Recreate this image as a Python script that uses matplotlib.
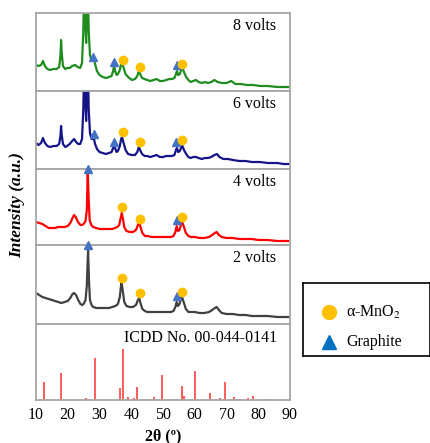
import matplotlib
matplotlib.use("Agg")
import matplotlib.pyplot as plt

plt.rcParams['font.family'] = ['Liberation Serif', 'DejaVu Serif']
plt.rcParams['mathtext.fontset'] = 'stix'

# ---------------- data (2theta in degrees, intensity in a.u.) ----------------
tt_8v = [10.0, 10.8, 11.6, 12.2, 12.8, 13.6, 14.4, 15.5, 16.5, 17.3, 17.7, 17.9, 18.1, 18.5, 19.2, 19.8,
         20.6, 21.4, 22.3, 23.1, 23.9, 24.5, 24.9, 25.2, 25.5, 25.8, 26.1, 26.3, 26.6, 27.0, 27.5, 27.9,
         28.2, 28.6, 29.2, 30.0, 31.0, 32.0, 33.0, 33.8, 34.3, 34.6, 34.9, 35.4, 35.8, 36.4, 36.8, 37.1,
         37.5, 38.2, 39.0, 40.2, 41.2, 41.9, 42.4, 42.8, 43.4, 44.2, 45.0, 46.0, 47.0, 48.0, 49.0, 50.0,
         51.0, 52.0, 52.8, 53.6, 54.1, 54.4, 54.8, 55.3, 55.8, 56.1, 56.6, 57.3, 58.0, 58.7, 59.5, 60.4,
         61.2, 62.2, 63.2, 64.2, 65.2, 66.2, 67.2, 68.5, 70.0, 71.5, 72.8, 74.5, 76.5, 78.5, 80.5, 83.0,
         86.0, 88.0, 90.0]
int_8v = [26, 25, 26, 30, 25, 22, 21, 22, 22, 24, 35, 51, 38, 25, 22, 23,
          23, 25, 26, 24, 23, 28, 60, 110, 70, 48, 90, 110, 60, 36, 30, 32,
          33, 27, 20, 16, 14, 13, 14, 15, 20, 26, 20, 16, 17, 21, 27, 29,
          24, 17, 14, 11, 12, 15, 20, 17, 13, 12, 11, 10, 11, 12, 10, 10,
          11, 12, 12, 13, 17, 20, 16, 17, 22, 23, 19, 14, 11, 9, 10, 11,
          9, 8, 9, 8, 9, 11, 9, 8, 8, 10, 7, 7, 6, 6, 5, 5,
          4, 4, 4]

tt_6v = [10.0, 10.8, 11.6, 12.2, 12.8, 13.6, 14.4, 15.5, 16.5, 17.3, 17.7, 17.9, 18.1, 18.5, 19.2, 19.8,
         20.6, 21.4, 22.0, 22.6, 23.3, 23.9, 24.5, 24.9, 25.2, 25.5, 25.8, 26.1, 26.3, 26.6, 27.0, 27.5,
         27.9, 28.2, 28.6, 29.2, 30.0, 31.0, 32.0, 33.0, 33.8, 34.3, 34.6, 34.9, 35.4, 35.8, 36.4, 36.8,
         37.1, 37.5, 38.2, 39.0, 40.2, 41.2, 41.9, 42.4, 42.8, 43.4, 44.2, 45.0, 46.0, 47.0, 48.0, 49.0,
         50.0, 51.0, 52.0, 52.8, 53.6, 54.1, 54.4, 54.8, 55.3, 55.8, 56.1, 56.6, 57.3, 58.0, 58.7, 59.5,
         60.4, 61.2, 62.2, 63.2, 64.2, 65.2, 66.2, 67.0, 67.8, 69.0, 70.5, 72.0, 74.0, 76.0, 78.0, 80.5,
         83.0, 86.0, 88.0, 90.0]
int_6v = [26, 24, 26, 31, 26, 23, 22, 23, 23, 25, 33, 43, 34, 25, 22, 23,
          25, 28, 30, 27, 25, 25, 30, 60, 110, 70, 48, 90, 110, 60, 36, 30,
          30, 31, 25, 20, 17, 16, 15, 16, 17, 21, 26, 21, 17, 18, 23, 30,
          32, 27, 19, 15, 14, 14, 17, 22, 19, 15, 13, 13, 12, 13, 14, 12,
          12, 13, 13, 13, 14, 19, 21, 17, 18, 22, 23, 19, 15, 12, 11, 12,
          12, 11, 10, 11, 11, 12, 14, 15, 12, 10, 10, 9, 8, 8, 7, 7,
          6, 6, 5, 5]

tt_4v = [10.0, 11.0, 12.0, 13.0, 14.0, 15.0, 16.0, 17.0, 18.0, 19.0, 20.0, 20.8, 21.5, 22.0, 22.5, 23.2,
         24.0, 24.5, 25.0, 25.6, 26.0, 26.3, 26.6, 26.9, 27.4, 28.0, 29.0, 30.0, 31.0, 32.0, 33.0, 34.0,
         34.9, 35.6, 36.2, 36.6, 37.0, 37.4, 37.8, 38.5, 39.5, 40.5, 41.5, 42.1, 42.5, 42.9, 43.5, 44.3,
         45.0, 46.5, 48.0, 49.5, 51.0, 52.5, 53.3, 53.9, 54.3, 54.7, 55.2, 55.7, 56.0, 56.5, 57.2, 58.0,
         58.8, 60.0, 61.5, 63.0, 64.5, 65.5, 66.3, 66.9, 67.6, 68.5, 70.0, 72.0, 74.0, 76.0, 78.0, 80.0,
         83.0, 86.0, 88.0, 90.0]
int_4v = [23, 22, 21, 19, 17, 17, 17, 18, 18, 18, 19, 22, 27, 30, 28, 23,
          20, 20, 21, 24, 35, 73, 45, 25, 20, 18, 17, 16, 16, 16, 16, 16,
          17, 18, 20, 26, 32, 26, 18, 14, 13, 13, 15, 20, 23, 18, 12, 9,
          9, 8, 8, 8, 8, 8, 9, 13, 19, 14, 15, 21, 23, 19, 12, 9,
          8, 8, 7, 7, 8, 10, 12, 13, 10, 8, 7, 7, 6, 6, 6, 5,
          5, 4, 4, 4]

tt_2v = [10.0, 11.0, 12.0, 13.0, 14.0, 15.0, 16.0, 17.0, 18.0, 19.0, 20.0, 20.8, 21.5, 22.0, 22.6, 23.3,
         24.0, 24.5, 25.0, 25.6, 26.0, 26.4, 26.7, 27.0, 27.5, 28.0, 29.0, 30.0, 31.0, 32.0, 33.0, 34.0,
         35.0, 35.8, 36.4, 36.9, 37.3, 37.8, 38.5, 39.5, 40.5, 41.5, 42.1, 42.5, 42.9, 43.5, 44.3, 45.0,
         46.5, 48.0, 49.5, 51.0, 52.5, 53.3, 53.9, 54.3, 54.7, 55.2, 55.7, 56.0, 56.5, 57.2, 58.0, 58.8,
         60.0, 61.5, 63.0, 64.5, 65.5, 66.3, 66.9, 67.6, 68.5, 70.0, 72.0, 74.0, 76.0, 78.0, 80.0, 83.0,
         86.0, 88.0, 90.0]
int_2v = [31, 29, 27, 26, 25, 24, 23, 22, 21, 22, 23, 26, 30, 31, 29, 24,
          20, 19, 20, 24, 38, 74, 42, 24, 19, 17, 16, 16, 16, 16, 16, 17,
          18, 20, 27, 42, 34, 22, 18, 17, 17, 19, 24, 26, 21, 15, 13, 12,
          12, 12, 12, 12, 12, 13, 17, 22, 18, 20, 26, 27, 22, 15, 12, 12,
          12, 11, 11, 12, 14, 16, 17, 14, 11, 10, 10, 9, 9, 8, 8, 8,
          7, 7, 7]

# ICDD No. 00-044-0141 reference sticks
icdd_tt = [12.6, 17.9, 25.6, 28.6, 36.5, 37.3, 38.9, 41.0, 41.8, 45.9, 47.2, 49.6, 52.5, 56.0, 56.5,
           60.1, 64.9, 66.7, 68.0, 69.5, 72.5, 73.4, 76.9, 78.5, 83.7, 86.9]
icdd_int = [18.3, 26.7, 1.7, 41.7, 11.7, 51.0, 3.3, 1.7, 13.3, 0.8, 2.7, 25.0, 0.6, 14.3, 4.0,
            29.0, 6.7, 0.8, 1.7, 17.7, 2.7, 0.8, 1.7, 4.3, 0.8, 0.8]

# peak markers: (2theta, intensity) per pattern
mno2_8v = ([37.3, 42.7, 56.1], [31, 24, 27])
graph_8v = ([28.1, 34.6, 54.3], [34, 29, 26])
mno2_6v = ([37.3, 42.8, 56.1], [37, 27, 29])
graph_6v = ([28.4, 34.6, 54.2], [35, 27, 27])
mno2_4v = ([37.2, 42.6, 56.1], [38, 26, 28])
graph_4v = ([26.4, 54.3], [76, 25])
mno2_2v = ([37.0, 42.6, 56.1], [46, 31, 32])
graph_2v = ([26.4, 54.3], [79, 28])

panel_labels = ["8 volts", "6 volts", "4 volts", "2 volts", "ICDD No. 00-044-0141"]
legend_labels = ["α-MnO$_2$", "Graphite"]
line_colors = ["#1e8c1e", "#141488", "#ff0000", "#404040"]
panel_heights = [78, 78, 76, 79, 76]
xticks = [10, 20, 30, 40, 50, 60, 70, 80, 90]

# ---------------- figure ----------------
W, H = 431, 443
fig = plt.figure(figsize=(W / 100, H / 100), dpi=100)
gs = fig.add_gridspec(5, 1, height_ratios=panel_heights, hspace=0,
                      left=36 / W, right=290 / W, top=1 - 13 / H, bottom=1 - 400 / H)
axes = [fig.add_subplot(gs[i, 0]) for i in range(5)]

frame_col = "#a6a6a6"
series = [(tt_8v, int_8v, mno2_8v, graph_8v),
          (tt_6v, int_6v, mno2_6v, graph_6v),
          (tt_4v, int_4v, mno2_4v, graph_4v),
          (tt_2v, int_2v, mno2_2v, graph_2v)]

circ_col = "#ffc000"
tri_col = "#4472c4"

for i, ax in enumerate(axes):
    ax.set_xlim(10, 90)
    ax.set_ylim(0, panel_heights[i])
    for sp in ax.spines.values():
        sp.set_color(frame_col)
        sp.set_linewidth(1.3)
    ax.set_yticks([])
    ax.set_xticks(xticks)
    ax.tick_params(axis='x', length=0, pad=5, labelsize=11.5)
    if i < 4:
        ax.tick_params(labelbottom=False)
        tt, it, mn, gr = series[i]
        ax.plot(tt, it, color=line_colors[i], lw=1.6, zorder=2)
        ax.plot(gr[0], gr[1], linestyle='none', marker='^', ms=6, color=tri_col,
                clip_on=False, zorder=5)
        ax.plot(mn[0], mn[1], linestyle='none', marker='o', ms=6, color=circ_col,
                clip_on=False, zorder=5)
        ax.text(0.945, 0.83, panel_labels[i], transform=ax.transAxes, ha='right', va='center',
                fontsize=11.5)
    else:
        ax.vlines(icdd_tt, 0, icdd_int, color="#ff4040", lw=1.2)
        ax.text(0.95, 0.82, panel_labels[i], transform=ax.transAxes, ha='right', va='center',
                fontsize=11.5)

fig.text(163 / W, 1 - 436 / H, "2θ (º)", ha='center', va='center',
         fontsize=11.5, fontweight='bold')
fig.text(17 / W, 1 - 205 / H, "Intensity (a.u.)", rotation=90, ha='center', va='center',
         fontsize=12.5, fontweight='bold', fontstyle='italic')

# legend box
leg_ax = fig.add_axes([303 / W, 1 - 356 / H, 127 / W, 73 / H])
leg_ax.set_xlim(0, 1)
leg_ax.set_ylim(0, 1)
leg_ax.set_xticks([])
leg_ax.set_yticks([])
for sp in leg_ax.spines.values():
    sp.set_color("black")
    sp.set_linewidth(1.2)
leg_ax.plot([0.205], [0.60], linestyle='none', marker='o', ms=10, color=circ_col)
leg_ax.plot([0.205], [0.19], linestyle='none', marker='^', ms=10, color="#0070c0")
leg_ax.text(0.34, 0.60, legend_labels[0], ha='left', va='center', fontsize=11.5)
leg_ax.text(0.34, 0.19, legend_labels[1], ha='left', va='center', fontsize=11.5)

fig.savefig("out.png", dpi=100)
